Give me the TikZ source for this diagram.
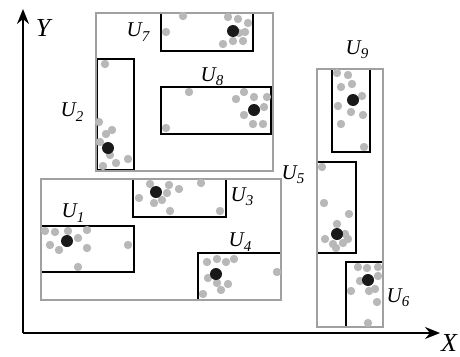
\documentclass[tikz,border=0pt]{standalone}
\usepackage{fontspec}
\setmainfont{Liberation Serif}
\usetikzlibrary{arrows.meta}
\definecolor{boxgray}{HTML}{A0A0A0}
\definecolor{dotgray}{HTML}{B8B8B8}
\newcommand{\ulab}[1]{\fontsize{21}{21}\selectfont\itshape U\raisebox{-0.45ex}{\fontsize{15}{15}\selectfont #1}}
\begin{document}
\begin{tikzpicture}[x=1pt,y=-1pt,
  blackbox/.style={draw=black,line width=2pt},
  graybox/.style={draw=boxgray,line width=2pt},
  gdot/.style={fill=dotgray,draw=none},
  bdot/.style={fill=black!90,draw=none},
  axis/.style={draw=black,line width=1.8pt,-{Stealth[length=15pt,width=12pt,inset=5pt]}},
  ulabel/.style={inner sep=0pt,anchor=center},
  axlabel/.style={inner sep=0pt,font=\fontsize{26}{26}\selectfont\itshape}]
\useasboundingbox (0,0) rectangle (460,356);
% axes
\coordinate (O) at (23,333);
\coordinate (Ytip) at (23,9);
\coordinate (Xtip) at (440,333);
\draw[axis] (O) -- (Ytip);
\draw[axis] (O) -- (Xtip);
\node[axlabel] (Y) at (43,28) {Y};
\node[axlabel] (X) at (449,343) {X};
% black boxes
\draw[blackbox] (161,13) rectangle (253,51);   % U7
\draw[blackbox] (97,59) rectangle (134,170);   % U2
\draw[blackbox] (161,87) rectangle (271,134);  % U8
\draw[blackbox] (133,179) rectangle (226,217); % U3
\draw[blackbox] (41,226) rectangle (134,272);  % U1
\draw[blackbox] (198,253) rectangle (281,300); % U4
\draw[blackbox] (332,69) rectangle (370,152);  % U9
\draw[blackbox] (317,162) rectangle (356,253); % U5
\draw[blackbox] (346,262) rectangle (383,327); % U6
% gray boxes
\draw[graybox] (96,13) rectangle (273,171);
\draw[graybox] (41,179) rectangle (281,300);
\draw[graybox] (317,69) rectangle (383,327);
% labels
\node[ulabel] (l7) at (138,32) {\ulab{7}};
\node[ulabel] (l8) at (212,77) {\ulab{8}};
\node[ulabel] (l2) at (72,112) {\ulab{2}};
\node[ulabel] (l1) at (73,213) {\ulab{1}};
\node[ulabel] (l3) at (242,197) {\ulab{3}};
\node[ulabel] (l4) at (240,242) {\ulab{4}};
\node[ulabel] (l9) at (357,50) {\ulab{9}};
\node[ulabel] (l5) at (293,175) {\ulab{5}};
\node[ulabel] (l6) at (398,298) {\ulab{6}};
% gray dots
\foreach \p in {
 (183,16),(166,32),(228,17),(238,19),(248,23),(245,32),(239,33),(233,41),(243,41),(223,44),
 (189,92),(244,92),(236,99),(254,97),(267,97),(264,107),(244,115),(253,124),(263,124),(166,128),
 (105,64),(99,122),(112,130),(106,134),(100,142),(110,155),(116,163),(128,159),(103,166),
 (150,184),(169,185),(179,189),(201,183),(139,198),(167,193),(162,200),(154,203),(170,211),(220,211),
 (45,231),(55,232),(68,231),(87,230),(78,238),(50,245),(59,250),(87,248),(128,245),(78,267),
 (207,262),(217,259),(226,262),(234,259),(208,278),(217,283),(228,284),(221,290),(203,294),(277,272),
 (337,73),(348,75),(341,87),(352,84),(362,96),(338,106),(351,112),(363,115),(341,124),(364,147),
 (322,167),(324,203),(349,214),(337,224),(345,234),(348,239),(325,239),(333,244),(343,243),(336,248),
 (358,267),(367,268),(378,267),(378,276),(360,281),(351,291),(369,291),(375,289),(377,302),(368,323)}
 \fill[gdot] \p circle (4.2);
% black dots
\foreach \p in {(233,31),(254,110),(108,148),(156,192),(67,241),(216,274),(353,100),(337,234),(368,280)}
 \fill[bdot] \p circle (6);
\end{tikzpicture}
\end{document}
